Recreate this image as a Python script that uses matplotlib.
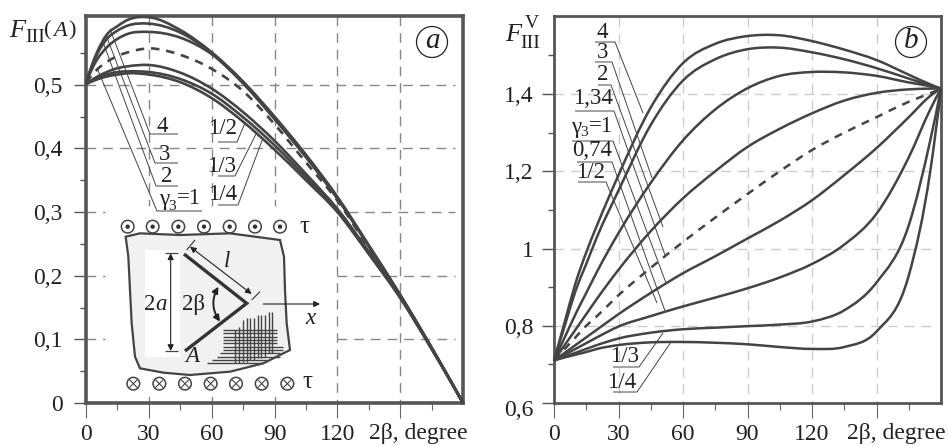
import matplotlib
matplotlib.use("Agg")
import matplotlib.pyplot as plt
from matplotlib.path import Path
from matplotlib.patches import Polygon, Circle, Rectangle, FancyArrowPatch, PathPatch

plt.rcParams['font.family'] = ['Liberation Serif', 'DejaVu Serif']

W, H = 948, 446
INK = '#444444'

# panel a: F_III(A) against 2beta
deg_a = [0, 5, 10, 15, 20, 30, 45, 60, 75, 90, 105, 120, 135, 150, 165, 180]
a_4 = [.503, .549, .579, .592, .602, .606, .586, .551, .505, .450, .390, .324, .248, .170, .087, 0]
a_3 = [.503, .546, .572, .585, .593, .596, .582, .550, .504, .449, .389, .323, .247, .170, .087, 0]
a_2 = [.503, .538, .559, .572, .580, .583, .574, .548, .502, .446, .386, .321, .246, .169, .087, 0]
a_1 = [.503, .523, .536, .545, .551, .557, .547, .525, .490, .438, .378, .318, .243, .168, .086, 0]
a_1_2 = [.501, .512, .520, .526, .529, .531, .519, .494, .457, .412, .360, .305, .238, .167, .086, 0]
a_1_3 = [.501, .510, .516, .520, .521, .520, .509, .486, .449, .405, .355, .303, .236, .166, .085, 0]
a_1_4 = [.501, .508, .513, .516, .518, .516, .504, .479, .442, .398, .350, .300, .234, .165, .085, 0]

# panel b: F_III^V against 2beta
deg_b = [0, 5, 10, 15, 20, 30, 45, 60, 75, 90, 105, 120, 135, 150, 165, 175, 180]
b_4 = [.71, .81, .91, .99, 1.06, 1.19, 1.365, 1.48, 1.53, 1.55, 1.552, 1.537, 1.515, 1.488, 1.45, 1.425, 1.414]
b_3 = [.71, .80, .89, .96, 1.03, 1.15, 1.32, 1.435, 1.49, 1.516, 1.52, 1.508, 1.49, 1.467, 1.44, 1.422, 1.414]
b_2 = [.71, .77, .83, .885, .94, 1.04, 1.17, 1.28, 1.36, 1.415, 1.447, 1.457, 1.456, 1.447, 1.43, 1.42, 1.414]
b_134 = [.71, .75, .79, .83, .87, .945, 1.045, 1.13, 1.20, 1.263, 1.31, 1.35, 1.383, 1.403, 1.412, 1.414, 1.414]
b_1 = [.71, .74, .77, .80, .825, .879, .95, 1.017, 1.08, 1.141, 1.20, 1.255, 1.30, 1.34, 1.38, 1.402, 1.414]
b_074 = [.71, .73, .75, .77, .79, .83, .885, .936, .98, 1.026, 1.072, 1.125, 1.19, 1.26, 1.34, 1.395, 1.414]
b_1_2 = [.71, .725, .74, .755, .77, .798, .825, .85, .873, .897, .925, .96, 1.01, 1.09, 1.236, 1.36, 1.414]
b_1_3 = [.71, .72, .73, .74, .75, .767, .782, .791, .795, .799, .803, .811, .84, .912, 1.06, 1.28, 1.414]
b_1_4 = [.71, .718, .725, .732, .74, .75, .757, .758, .756, .752, .745, .74, .745, .785, .93, 1.2, 1.414]

x_major = [0, 30, 60, 90, 120, 150]
x_labels = ['0', '30', '60', '90', '120', '']
x_minor = [15, 45, 75, 105, 135, 165]
y_major_a = [0, .1, .2, .3, .4, .5]
y_labels_a = ['0', '0,1', '0,2', '0,3', '0,4', '0,5']
y_minor_a = [.05, .15, .25, .35, .45, .55]
y_major_b = [.6, .8, 1.0, 1.2, 1.4]
y_labels_b = ['', '0,8', '1', '1,2', '1,4']
y_minor_b = [.7, .9, 1.1, 1.3, 1.5]


def make_axes(x0, x1, ylim, lw, ypad):
    ax = fig.add_axes([x0 / W, (H - 403) / H, (x1 - x0) / W, (403 - 16) / H])
    ax.set_xlim(0, 180)
    ax.set_ylim(*ylim)
    for s in ax.spines.values():
        s.set_linewidth(lw)
        s.set_color('#555555')
    ax.set_xticks(x_major, x_labels)
    ax.set_xticks(x_minor, minor=True)
    ax.tick_params(axis='x', which='major', length=11, width=0.8, color='#666666', pad=4, labelsize=17, labelcolor='#222222')
    ax.tick_params(axis='x', which='minor', length=5, width=0.8, color='#666666')
    ax.tick_params(axis='y', which='major', length=9, width=1, color='#555555', pad=ypad, labelsize=17, labelcolor='#222222')
    ax.tick_params(axis='y', which='minor', length=4.5, width=1, color='#555555')
    return ax


def curve(ax, xs, ys, lw, dashes=None):
    # bezier through the read points, so the curve has no corners
    d = [(ys[i + 1] - ys[i]) / (xs[i + 1] - xs[i]) for i in range(len(xs) - 1)]
    h = [xs[i + 1] - xs[i] for i in range(len(xs) - 1)]
    m = [d[0] + (d[0] - d[1]) * h[0] / (h[0] + h[1])]
    for i in range(1, len(xs) - 1):
        m.append((h[i - 1] * d[i] + h[i] * d[i - 1]) / (h[i - 1] + h[i]))
    m.append(d[-1] + (d[-1] - d[-2]) * h[-1] / (h[-1] + h[-2]))
    verts = [(xs[0], ys[0])]
    codes = [Path.MOVETO]
    for i in range(len(xs) - 1):
        verts.append((xs[i] + h[i] / 3, ys[i] + m[i] * h[i] / 3))
        verts.append((xs[i + 1] - h[i] / 3, ys[i + 1] - m[i + 1] * h[i] / 3))
        verts.append((xs[i + 1], ys[i + 1]))
        codes += [Path.CURVE4] * 3
    ls = (0, dashes) if dashes else '-'
    ax.add_patch(PathPatch(Path(verts, codes), fill=False, ec=INK, lw=lw, ls=ls, zorder=3, clip_on=False,
                           joinstyle='round', capstyle='butt'))


fig = plt.figure(figsize=(W / 100, H / 100), dpi=100)

# panel a
ax1 = make_axes(86, 463, (0, 0.608), 2.6, 8)
ax1.set_yticks(y_major_a, y_labels_a)
ax1.set_yticks(y_minor_a, minor=True)
grid_a = dict(color='#888888', lw=1, dashes=(7, 5), zorder=1)
for v in [30, 60, 90]:
    ax1.plot([v, v], [.608, .31], **grid_a)
    ax1.plot([v, v], [.01, 0], color='#888888', lw=1)
for v in [120, 150]:
    ax1.plot([v, v], [.608, 0], **grid_a)
ax1.plot([0, 176], [.5, .5], **grid_a)
ax1.plot([0, 176], [.4, .4], **grid_a)
for v, start in [(.3, 125), (.2, 120), (.1, 120)]:
    ax1.plot([0, 9], [v, v], **grid_a)
    ax1.plot([start, 176], [v, v], **grid_a)

for vals in [a_4, a_3, a_2, a_1_2, a_1_3, a_1_4]:
    curve(ax1, deg_a, vals, 1.9)
curve(ax1, deg_a, a_1, 1.9, (3.2, 2.6))

# panel b
ax2 = make_axes(554, 941, (.6, 1.602), 2.0, 5.5)
ax2.set_yticks(y_major_b, y_labels_b)
ax2.set_yticks(y_minor_b, minor=True)
grid_b = dict(color='#cccccc', lw=1, dashes=(7, 5), zorder=1)
for v in x_major[1:]:
    ax2.plot([v, v], [1.6, .6], **grid_b)
for v in [.8, 1.0, 1.2, 1.4]:
    ax2.plot([0, 176], [v, v], **grid_b)

for vals in [b_4, b_3, b_2, b_134, b_074, b_1_2, b_1_3, b_1_4]:
    curve(ax2, deg_b, vals, 1.8)
curve(ax2, deg_b, b_1, 1.8, (3.2, 2.8))

# overlay in pixel units for labels, leaders and the sketch
ov = fig.add_axes([0, 0, 1, 1], zorder=5)
ov.set_xlim(0, W)
ov.set_ylim(H, 0)
ov.axis('off')
ov.patch.set_alpha(0)


def txt(x, y, s, size=16.5, **kw):
    kw.setdefault('ha', 'center')
    kw.setdefault('va', 'center')
    kw.setdefault('color', '#222222')
    ov.text(x, y, s, fontsize=size, **kw)


def line(pts, lw=0.7, color='#444444', **kw):
    ov.plot([p[0] for p in pts], [p[1] for p in pts], color=color, lw=lw, solid_capstyle='butt', **kw)


def arrow(p0, p1, style='-|>', lw=0.8, conn=None):
    ov.add_patch(FancyArrowPatch(p0, p1, arrowstyle=style, mutation_scale=9, lw=lw, color='#222222',
                                 shrinkA=0, shrinkB=0, connectionstyle=conn or 'arc3', zorder=5))


txt(418, 434, '2β, degree', size=17)
txt(896, 434, '2β, degree', size=17)
txt(534, 411, '0,6', size=17, ha='right')

# axis titles
txt(17, 31, 'F', size=19, style='italic')
txt(35, 38, 'III', size=14)
txt(48, 31, '(', size=16)
txt(60, 31, 'A', size=16, style='italic')
txt(72, 31, ')', size=16)
txt(513, 35, 'F', size=19, style='italic')
txt(530, 43, 'III', size=14)
txt(532, 23, 'V', size=14)

# panel letters
ov.add_patch(Circle((432, 42), 15.5, fill=False, ec='#222222', lw=0.9))
txt(432, 41, 'a', size=21, style='italic')
ov.add_patch(Circle((911, 42), 15.5, fill=False, ec='#222222', lw=0.9))
txt(911, 41, 'b', size=21, style='italic')

# leaders, panel a
for pts in [[(110, 29), (150, 134), (178, 134)], [(106, 35), (155, 163), (178, 163)],
            [(103, 42), (156, 186), (178, 186)], [(97, 68), (157, 211), (202, 211)],
            [(245, 123), (237, 142), (218, 142)], [(257, 132), (235, 176), (218, 176)],
            [(263, 138), (238, 205), (218, 205)]]:
    line(pts)
txt(162, 126, '4')
txt(165, 155, '3')
txt(167, 177, '2')
txt(164, 200, 'γ')
txt(172, 206, '3', size=11)
txt(177, 199, '=1', ha='left')
txt(223, 129, '1/2')
txt(222, 166, '1/3')
txt(223, 195, '1/4')

# leaders, panel b
for pts in [[(595, 42), (615, 42), (643, 113)], [(595, 62), (612, 62), (652, 178)],
            [(598, 85), (611, 85), (663, 227)], [(575, 111), (614, 111), (665, 255)],
            [(572, 141), (613, 141), (666, 283)], [(577, 162), (612, 162), (665, 311)],
            [(578, 182), (606, 182), (657, 303)], [(613, 367), (639, 367), (663, 333)],
            [(613, 392), (637, 392), (671, 342)]]:
    line(pts)
txt(602, 32, '4')
txt(603, 53, '3')
txt(603, 75, '2')
txt(593, 99, '1,34')
txt(576, 127, 'γ')
txt(584, 133, '3', size=11)
txt(589, 126, '=1', ha='left')
txt(592, 151, '0,74')
txt(591, 173, '1/2')
txt(625, 357, '1/3')
txt(622, 383, '1/4')


# sketch of the plate with the crack, in zoomed crop units
def sk(x, y):
    return (80 + x / 3, 190 + y / 3)


blob = [(137, 140), (180, 130), (300, 135), (450, 130), (600, 150), (612, 200), (615, 300), (620, 400),
        (630, 480), (590, 500), (550, 520), (450, 545), (330, 555), (250, 548), (180, 535), (165, 500),
        (155, 400), (150, 300), (145, 200)]
ov.add_patch(Polygon([sk(*p) for p in blob], closed=True, fc='#f1f1f1', ec='#444444', lw=1.6, zorder=1))
ov.add_patch(Rectangle(sk(195, 180), 105 / 3, 320 / 3, fc='white', ec='none', zorder=1))

for x in [143, 218, 295, 372, 449, 525, 600]:
    ov.add_patch(Circle(sk(x, 110), 6.3, fill=False, ec='#444444', lw=1.1))
    ov.add_patch(Circle(sk(x, 110), 2.2, fc='#333333', ec='none'))
for x in [160, 238, 315, 392, 468, 545, 622]:
    ov.add_patch(Circle(sk(x, 581), 6.3, fill=False, ec='#444444', lw=1.1))
    px, py = sk(x, 581)
    line([(px - 4, py - 4), (px + 4, py + 4)], lw=0.8)
    line([(px - 4, py + 4), (px + 4, py - 4)], lw=0.8)
txt(*sk(672, 110), 'τ', size=18)
txt(*sk(682, 575), 'τ', size=18)

# hatching
rows = [(520, 380, 550), (510, 395, 560), (500, 410, 600), (490, 420, 600), (480, 430, 610), (470, 430, 610),
        (460, 430, 590), (450, 430, 590), (440, 430, 590), (430, 430, 590), (420, 430, 590)]
cols = [(465, 420, 520), (477, 410, 520), (488, 390, 515), (500, 385, 515), (511, 385, 510), (522, 385, 510),
        (533, 375, 505), (544, 375, 505), (555, 375, 500), (566, 365, 490), (575, 365, 490)]
for y, a, b in rows:
    line([sk(a, y), sk(b, y)], lw=1.0)
for x, a, b in cols:
    line([sk(x, a), sk(x, b)], lw=1.0)

line([sk(312, 192), sk(500, 340), sk(315, 483)], lw=2.4, color='#333333', solid_joinstyle='miter')
line([sk(255, 190), sk(293, 190)], lw=0.9)
line([sk(255, 483), sk(293, 483)], lw=0.9)
arrow(sk(272, 190), sk(272, 483), '<|-|>')
arrow(sk(330, 170), sk(515, 312), '<|-|>')
line([sk(320, 180), sk(345, 150)], lw=0.9)
line([sk(515, 330), sk(540, 305)], lw=0.9)
arrow(sk(415, 290), sk(420, 395), '<|-|>', lw=1.4, conn='arc3,rad=0.3')
arrow(sk(550, 342), sk(720, 342))
txt(*sk(225, 345), '2', ha='right')
txt(*sk(225, 345), 'a', style='italic', ha='left')
txt(*sk(342, 343), '2β')
txt(*sk(442, 215), 'l', style='italic')
txt(*sk(692, 385), 'x', style='italic')
txt(*sk(338, 500), 'A', style='italic')

fig.savefig('out.png', dpi=100)
